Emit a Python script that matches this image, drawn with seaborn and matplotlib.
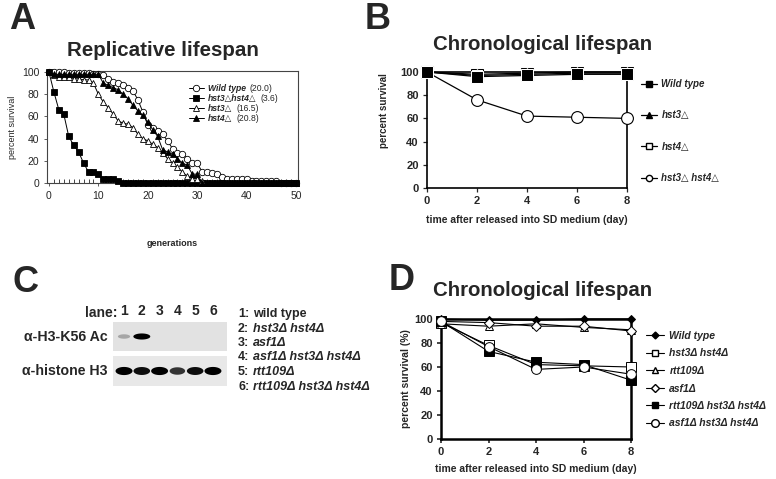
import numpy as np
import pandas as pd
import seaborn as sns
import matplotlib.pyplot as plt
from matplotlib.lines import Line2D
from matplotlib.path import Path

# ---- data -------------------------------------------------------------
# A: replicative lifespan (percent survival per generation, 0..50)
generations = np.arange(0, 51)
wt_rls = [100, 100, 100, 100, 99, 99, 99, 99, 99, 98, 98,
          97, 94, 91, 90, 88, 86, 83, 75, 64, 52,
          50, 47, 44, 38, 31, 27, 26, 22, 18, 18,
          10, 10, 9, 8, 5, 4, 4, 4, 4, 4,
          2, 2, 2, 2, 2, 2, 0, 0, 0, 0]
hst3hst4_rls = [100, 82, 66, 62, 42, 34, 28, 18, 10, 10, 8,
                4, 4, 4, 2] + [0] * 36
hst3_rls = [100, 97, 96, 96, 96, 94, 94, 93, 93, 90, 80,
            73, 68, 62, 56, 54, 53, 50, 44, 40, 38,
            35, 32, 27, 22, 18, 14, 10, 6, 4, 4,
            2] + [0] * 19
hst4_rls = [100, 98, 98, 98, 98, 98, 98, 98, 98, 98, 98,
            90, 88, 86, 84, 80, 76, 70, 65, 61, 55,
            48, 42, 30, 28, 26, 22, 18, 16, 8, 8] + [0] * 20
rls_names = ["Wild type", "hst3△hst4△", "hst3△", "hst4△"]
rls_means = ["(20.0)", "(3.6)", "(16.5)", "(20.8)"]

# B: chronological lifespan
days = [0, 2, 4, 6, 8]
b_wt = [100, 96, 97, 98, 98]
b_hst3 = [100, 98, 99, 100, 100]
b_hst4 = [100, 97, 98, 99, 99]
b_hst3hst4 = [100, 76, 62, 61, 60]
b_names = ["Wild type", "hst3△", "hst4△", "hst3△ hst4△"]

# C: western blot band intensities (lanes 1..6)
lanes = [1, 2, 3, 4, 5, 6]
k56ac_signal = [0.35, 1.0, 0.0, 0.0, 0.0, 0.0]
h3_signal = [1.0, 0.95, 1.0, 0.8, 0.95, 1.0]
lane_strains = ["wild type", "hst3Δ hst4Δ", "asf1Δ", "asf1Δ hst3Δ hst4Δ",
                "rtt109Δ", "rtt109Δ hst3Δ hst4Δ"]

# D: chronological lifespan, more strains
d_wt = [100, 99, 99, 100, 100]
d_hst3hst4 = [97, 78, 62, 61, 60]
d_rtt109 = [96, 94, 96, 93, 91]
d_asf1 = [98, 97, 94, 94, 90]
d_rtt109_hst3hst4 = [98, 73, 64, 62, 49]
d_asf1_hst3hst4 = [98, 77, 58, 60, 54]
d_names = ["Wild type", "hst3Δ hst4Δ", "rtt109Δ", "asf1Δ",
           "rtt109Δ hst3Δ hst4Δ", "asf1Δ hst3Δ hst4Δ"]

# ---- style ------------------------------------------------------------
sns.set_style("ticks")
FAM = ['Liberation Sans', 'DejaVu Sans']
plt.rcParams['font.family'] = FAM
plt.rcParams['axes.edgecolor'] = 'black'

W, H = 776, 479
fig = plt.figure(figsize=(W / 100, H / 100), dpi=100)
fig.patch.set_facecolor('white')


def fx(px):
    return px / W


def fy(py):
    return 1 - py / H


bi = dict(family=FAM, weight='bold', style='italic')

# panel letters
for letter, x, y in [("A", 9, 29), ("B", 365, 29), ("C", 13, 292), ("D", 389, 290)]:
    fig.text(fx(x), fy(y), letter, fontsize=26, fontweight='bold', va='baseline')

# ---- A ----------------------------------------------------------------
axa = fig.add_axes([fx(47), fy(183), fx(251), 112 / H])
dfa = pd.DataFrame({"gen": generations, "wt": wt_rls, "dd": hst3hst4_rls,
                    "h3": hst3_rls, "h4": hst4_rls})
styles_a = [("wt", 'o', 'white'), ("dd", 's', 'black'), ("h3", '^', 'white'), ("h4", '^', 'black')]
for (col, mk, fc), name in zip(styles_a, rls_names):
    sns.lineplot(data=dfa, x="gen", y=col, ax=axa, color='black', lw=0.7,
                 marker=mk, markersize=4.6, markerfacecolor=fc, markeredgecolor='black',
                 markeredgewidth=0.6, clip_on=False, label=name, legend=False, zorder=3)
axa.set_xlim(-0.4, 50.4)
axa.set_ylim(0, 101)
axa.set_xticks(range(0, 51, 10))
axa.set_xticks(range(0, 51), minor=True)
axa.set_yticks(range(0, 101, 20))
axa.tick_params(axis='both', labelsize=7.5, length=2.5, width=0.6, color='#444444', pad=3)
axa.tick_params(axis='x', which='minor', direction='in', length=3, width=0.6)
for s in axa.spines.values():
    s.set_linewidth(0.8)
    s.set_color('#444444')
axa.set_ylabel("percent survival", fontsize=6.5)
axa.yaxis.set_label_coords(-0.118, 0.5)
axa.set_xlabel("generations", fontsize=6.5, fontweight='bold')
axa.xaxis.set_label_coords(0.5, -0.5)
handles, _ = axa.get_legend_handles_labels()
lega = axa.legend(handles, rls_names, loc='upper left', bbox_to_anchor=(fx(189), fy(84)),
                  bbox_transform=fig.transFigure, frameon=False, borderpad=0, borderaxespad=0,
                  handlelength=1.7, handletextpad=0.5, labelspacing=0.12,
                  prop=dict(size=6.2, **bi))
fig.text(fx(163), fy(50), "Replicative lifespan", fontsize=14.8, fontweight='bold',
         ha='center', va='center')

# ---- B ----------------------------------------------------------------
axb = fig.add_axes([fx(427), fy(188), fx(200), 116 / H])
dfb = pd.DataFrame({"day": days, "dd": b_hst3hst4, "h4": b_hst4, "h3": b_hst3, "wt": b_wt})
sns.lineplot(data=dfb, x="day", y="dd", ax=axb, color='black', lw=0.9, marker='o',
             markersize=8.5, markerfacecolor='white', markeredgecolor='black',
             markeredgewidth=0.8, clip_on=False, legend=False, zorder=3)
sns.lineplot(data=dfb, x="day", y="h4", ax=axb, color='black', lw=0.9, marker='s',
             markersize=8, markerfacecolor='white', markeredgecolor='black',
             clip_on=False, legend=False, zorder=3)
sns.lineplot(data=dfb, x="day", y="h3", ax=axb, color='black', lw=0.9, marker='^',
             markersize=7, markerfacecolor='black', clip_on=False, legend=False, zorder=3)
sns.lineplot(data=dfb, x="day", y="wt", ax=axb, color='black', lw=0.9, marker='s',
             markersize=9, markerfacecolor='black', clip_on=False, legend=False, zorder=4)
axb.set_xlim(0, 8)
axb.set_ylim(0, 100)
axb.set_xticks(days)
axb.set_yticks(range(0, 101, 20))
axb.tick_params(axis='both', labelsize=8, length=3, width=0.9, pad=3)
for lab in axb.get_xticklabels() + axb.get_yticklabels():
    lab.set_fontweight('bold')
for s in axb.spines.values():
    s.set_linewidth(1.2)
axb.set_ylabel("percent survival", fontsize=7, fontweight='bold')
axb.yaxis.set_label_coords(-0.19, 0.67)
axb.set_xlabel("time after released into SD medium (day)", fontsize=7.5, fontweight='bold')
axb.xaxis.set_label_coords(0.5, -0.23)
hb = [Line2D([], [], color='black', lw=0.9, marker='s', ms=5, mfc='black'),
      Line2D([], [], color='black', lw=0.9, marker='^', ms=4.5, mfc='black'),
      Line2D([], [], color='black', lw=0.9, marker='s', ms=4.5, mfc='white'),
      Line2D([], [], color='black', lw=0.9, marker='o', ms=4.5, mfc='white')]
fig.legend(hb, b_names, loc='upper left', bbox_to_anchor=(fx(641), fy(79)),
           bbox_transform=fig.transFigure, frameon=False, borderpad=0, borderaxespad=0,
           handlelength=1.6, handletextpad=0.5, labelspacing=2.2, prop=dict(size=7, **bi))
fig.text(fx(543), fy(45), "Chronological lifespan", fontsize=14.7, fontweight='bold',
         ha='center', va='center')

# ---- C (blot) ---------------------------------------------------------
t = np.linspace(0, 2 * np.pi, 60)


def band_marker(ratio):
    return Path(np.column_stack([np.cos(t), ratio * np.sin(t)]))


def draw_blot(ax, signal, ratio, bg):
    ax.set_facecolor(bg)
    sig = np.array(signal)
    keep = sig > 0
    widths = 7 + 5.2 * sig[keep]
    greys = [str(round(1 - v, 2)) for v in sig[keep]]
    ax.scatter(np.array(lanes)[keep], np.zeros(keep.sum()), s=widths ** 2,
               marker=band_marker(ratio), c=greys, linewidths=0)
    ax.set_xlim(0.38, 6.79)
    ax.set_ylim(-1, 1)
    ax.set_yticks([])
    for s in ax.spines.values():
        s.set_visible(False)


ax_k = fig.add_axes([fx(113), fy(351), fx(114), 29 / H])
draw_blot(ax_k, k56ac_signal, 0.36, '#e2e2e2')
ax_k.xaxis.tick_top()
ax_k.set_xticks(lanes)
ax_k.set_xticklabels([str(l) for l in lanes], fontsize=10, fontweight='bold')
ax_k.tick_params(axis='x', length=0, pad=3)
ax_h = fig.add_axes([fx(113), fy(386), fx(114), 30 / H])
draw_blot(ax_h, h3_signal, 0.48, '#e8e8e8')
ax_h.set_xticks([])

fig.text(fx(118), fy(313), "lane:", fontsize=10, fontweight='bold', ha='right', va='center')
fig.text(fx(108), fy(337), "α-H3-K56 Ac", fontsize=10.2, fontweight='bold', ha='right', va='center')
fig.text(fx(107), fy(371), "α-histone H3", fontsize=10.2, fontweight='bold', ha='right', va='center')
for i, strain in enumerate(lane_strains):
    y = fy(314 + i * 14.5)
    fig.text(fx(238), y, f"{i + 1}:", fontsize=9, fontweight='bold', va='center')
    if i == 0:
        fig.text(fx(253), y, strain, fontsize=9, fontweight='bold', va='center')
    else:
        fig.text(fx(253), y, strain, fontsize=9, va='center', **bi)

# ---- D ----------------------------------------------------------------
axd = fig.add_axes([fx(441), fy(439), fx(190), 120 / H])
dfd = pd.DataFrame({"day": days, "wt": d_wt, "dd": d_hst3hst4, "r": d_rtt109, "a": d_asf1,
                    "rdd": d_rtt109_hst3hst4, "add": d_asf1_hst3hst4})
styles_d = [("wt", 'D', 'black', 4), ("dd", 's', 'white', 6.5), ("r", '^', 'white', 6),
            ("a", 'D', 'white', 5), ("rdd", 's', 'black', 6.5), ("add", 'o', 'white', 7)]
for (col, mk, fc, ms), name in zip(styles_d, d_names):
    sns.lineplot(data=dfd, x="day", y=col, ax=axd, color='black', lw=0.8, marker=mk,
                 markersize=ms, markerfacecolor=fc, markeredgecolor='black',
                 markeredgewidth=0.7, clip_on=False, label=name, legend=False, zorder=3)
axd.set_xlim(0, 8)
axd.set_ylim(0, 100)
axd.set_xticks(days)
axd.set_yticks(range(0, 101, 20))
axd.tick_params(axis='both', labelsize=8, length=3, width=1.2, pad=3)
for lab in axd.get_xticklabels() + axd.get_yticklabels():
    lab.set_fontweight('bold')
for s in axd.spines.values():
    s.set_linewidth(1.8)
axd.set_ylabel("percent survival (%)", fontsize=7.5, fontweight='bold')
axd.yaxis.set_label_coords(-0.16, 0.5)
axd.set_xlabel("time after released into SD medium (day)", fontsize=7.5, fontweight='bold')
axd.xaxis.set_label_coords(0.5, -0.21)
hd = [Line2D([], [], color='black', lw=0.8, marker='D', ms=3.5, mfc='black'),
      Line2D([], [], color='black', lw=0.8, marker='s', ms=5, mfc='white'),
      Line2D([], [], color='black', lw=0.8, marker='^', ms=5, mfc='white'),
      Line2D([], [], color='black', lw=0.8, marker='D', ms=4, mfc='white'),
      Line2D([], [], color='black', lw=0.8, marker='s', ms=5, mfc='black'),
      Line2D([], [], color='black', lw=0.8, marker='o', ms=5.5, mfc='white')]
fig.legend(hd, d_names, loc='upper left', bbox_to_anchor=(fx(646), fy(331)),
           bbox_transform=fig.transFigure, frameon=False, borderpad=0, borderaxespad=0,
           handlelength=1.7, handletextpad=0.55, labelspacing=0.72, prop=dict(size=7.5, **bi))
fig.text(fx(543), fy(290), "Chronological lifespan", fontsize=14.7, fontweight='bold',
         ha='center', va='center')

# mean lifespans after the legend names in A
fig.canvas.draw()
rend = fig.canvas.get_renderer()
for txt, m in zip(lega.get_texts(), rls_means):
    bb = txt.get_window_extent(rend)
    fig.text((bb.x1 + 4) / fig.bbox.width, (bb.y0 + bb.y1) / 2 / fig.bbox.height, m,
             fontsize=6.2, va='center')

fig.savefig("out.png", dpi=100, facecolor='white')
